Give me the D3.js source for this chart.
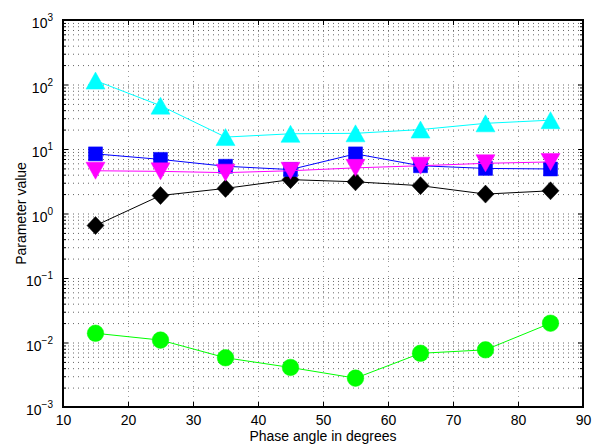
<!DOCTYPE html>
<html>
<head>
<meta charset="utf-8">
<script src="https://cdn.jsdelivr.net/npm/d3@7"></script>
<style>
  body { margin: 0; background: #fff; }
  svg { display: block; font-family: "Liberation Sans", Arial, sans-serif; }
</style>
</head>
<body>
<svg id="chart" width="594" height="445"></svg>
<script>
// data
const phaseAngles = [15, 25, 35, 45, 55, 65, 75, 85];
const greenVals   = [0.0139, 0.0109, 0.0058, 0.0041, 0.0028, 0.0068, 0.0077, 0.0199];
const blackVals   = [0.65, 1.9, 2.45, 3.35, 3.1, 2.7, 2.0, 2.25];
const blueVals    = [8.4, 6.9, 5.4, 4.8, 8.4, 5.5, 5.0, 4.9];
const cyanVals    = [115, 47, 15.3, 17.2, 17.5, 20, 25, 28];
const magentaVals = [4.6, 4.5, 4.3, 4.6, 5.1, 5.5, 6.0, 6.3];
const xTicks = [10, 20, 30, 40, 50, 60, 70, 80, 90];
const yDecades = [-3, -2, -1, 0, 1, 2, 3];
const xLabel = "Phase angle in degrees";
const yLabel = "Parameter value";

const svg = d3.select("#chart");
const margin = { top: 20, right: 11, bottom: 38, left: 63 };
const width = 594 - margin.left - margin.right;
const height = 445 - margin.top - margin.bottom;

const g = svg.append("g").attr("transform", `translate(${margin.left},${margin.top})`);

const x = d3.scaleLinear().domain([10, 90]).range([0, width]);
const y = d3.scaleLog().domain([1e-3, 1e3]).range([height, 0]);

const majorY = yDecades.map(p => Math.pow(10, p));
let minorY = [];
yDecades.slice(0, -1).forEach(p => {
  for (let k = 2; k <= 9; k++) minorY.push(k * Math.pow(10, p));
});

// grid
const gridStyle = (sel, col) => {
  sel.select(".domain").remove();
  sel.selectAll("text").remove();
  sel.selectAll("line").attr("stroke", col).attr("stroke-dasharray", "1,4");
};
g.append("g")
  .call(d3.axisLeft(y).tickValues(majorY.concat(minorY).filter(v => v > 1e-3 && v < 1e3)).tickSize(-width))
  .call(gridStyle, "#666");
g.append("g")
  .attr("transform", `translate(0,${height})`)
  .call(d3.axisBottom(x).tickValues(xTicks.slice(1, -1)).tickSize(-height))
  .call(gridStyle, "#999");

// series
const markers = {
  circle: "M8.3,0A8.3,8.3,0,1,1,-8.3,0A8.3,8.3,0,1,1,8.3,0Z",
  diamond: "M0,-9L8.5,0L0,9L-8.5,0Z",
  square: "M-7,-7L7,-7L7,7L-7,7Z",
  up: "M0,-8.5L9.5,8.5L-9.5,8.5Z",
  down: "M0,8.5L9.5,-8.5L-9.5,-8.5Z"
};

const series = [
  { vals: greenVals, color: "#00ff00", shape: "circle" },
  { vals: blackVals, color: "#000000", shape: "diamond" },
  { vals: blueVals, color: "#0000ff", shape: "square" },
  { vals: cyanVals, color: "#00ffff", shape: "up" },
  { vals: magentaVals, color: "#ff00ff", shape: "down" }
];

const line = d3.line().x((d, i) => x(phaseAngles[i])).y(d => y(d));

series.forEach(s => {
  const sg = g.append("g");
  sg.append("path")
    .attr("d", line(s.vals))
    .attr("fill", "none")
    .attr("stroke", s.color)
    .attr("stroke-width", 1);
  sg.selectAll("path.mk")
    .data(s.vals)
    .join("path")
    .attr("class", "mk")
    .attr("d", markers[s.shape])
    .attr("transform", (d, i) => `translate(${x(phaseAngles[i])},${y(d)})`)
    .attr("fill", s.color)
    .attr("stroke", s.color)
    .attr("stroke-width", 0.5);
});

// axes box and ticks
const tickStyle = sel => {
  sel.select(".domain").remove();
  sel.selectAll("line").attr("stroke", "#000").attr("stroke-width", 1);
  sel.selectAll("text").attr("font-size", 14).attr("fill", "#000").attr("font-family", "Liberation Sans, Arial, sans-serif");
};

g.append("g")
  .attr("transform", `translate(0,${height})`)
  .call(d3.axisBottom(x).tickValues(xTicks).tickSize(-5).tickPadding(8))
  .call(tickStyle);
g.append("g")
  .call(d3.axisTop(x).tickValues(xTicks).tickSize(-5).tickFormat(""))
  .call(tickStyle);

g.append("g").call(d3.axisLeft(y).tickValues(majorY).tickSize(-5).tickFormat("")).call(tickStyle);
g.append("g").call(d3.axisLeft(y).tickValues(minorY).tickSize(-3).tickFormat("")).call(tickStyle);
g.append("g").attr("transform", `translate(${width},0)`)
  .call(d3.axisRight(y).tickValues(majorY).tickSize(-5).tickFormat("")).call(tickStyle);
g.append("g").attr("transform", `translate(${width},0)`)
  .call(d3.axisRight(y).tickValues(minorY).tickSize(-3).tickFormat("")).call(tickStyle);

g.append("rect")
  .attr("x", 0).attr("y", 0)
  .attr("width", width).attr("height", height)
  .attr("fill", "none").attr("stroke", "#000").attr("stroke-width", 2);

// y tick labels 10^n
const yl = g.append("g").selectAll("text")
  .data(yDecades)
  .join("text")
  .attr("x", -10)
  .attr("y", d => y(Math.pow(10, d)) + 8)
  .attr("text-anchor", "end")
  .attr("font-size", 14)
  .attr("fill", "#000");
yl.append("tspan").text("10");
yl.append("tspan")
  .attr("dy", -7)
  .attr("font-size", 10)
  .text(d => d < 0 ? "\u2212" + Math.abs(d) : d);

// axis labels
svg.append("text")
  .attr("x", margin.left + width / 2)
  .attr("y", 441)
  .attr("text-anchor", "middle")
  .attr("font-size", 14)
  .text(xLabel);

svg.append("text")
  .attr("transform", `translate(26,${margin.top + height / 2}) rotate(-90)`)
  .attr("text-anchor", "middle")
  .attr("font-size", 14)
  .text(yLabel);
</script>
</body>
</html>
